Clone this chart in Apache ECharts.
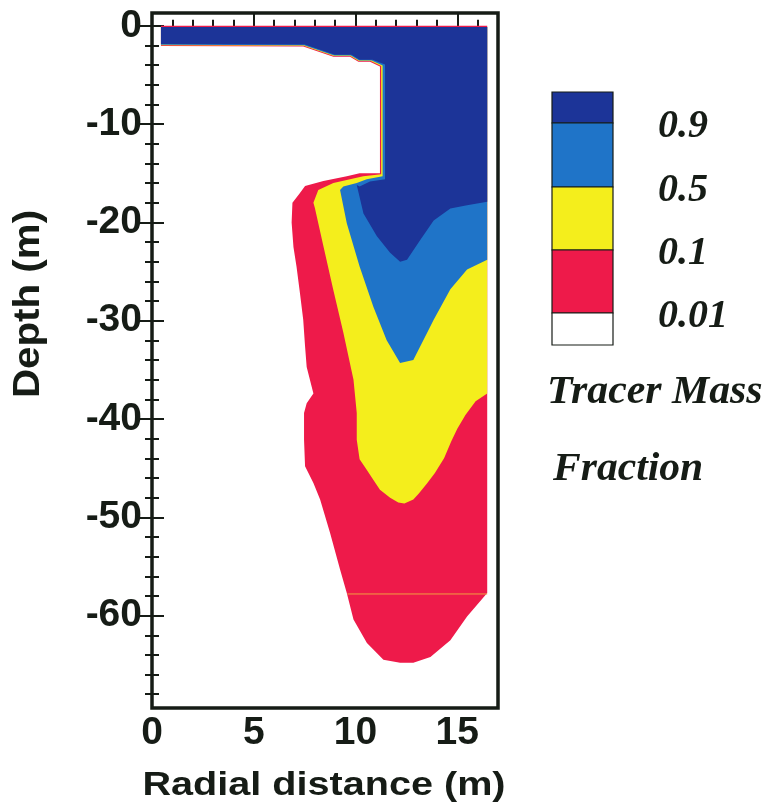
<!DOCTYPE html>
<html>
<head>
<meta charset="utf-8">
<title>Tracer Mass Fraction</title>
<script src="https://cdn.jsdelivr.net/npm/echarts@6/dist/echarts.min.js"></script>
<style>
  html, body { margin: 0; padding: 0; background: #fff; }
  #chart { width: 767px; height: 806px; }
</style>
</head>
<body>
<div id="chart"></div>
<script>
// Axis ticks (radial distance in m, depth in m)
const radialMajor = [0, 5, 10, 15];
const radialMinor = [1, 2, 3, 4, 6, 7, 8, 9, 11, 12, 13, 14, 16];
const depthMajor = [0, -10, -20, -30, -40, -50, -60];
const depthMinor = [-2, -4, -6, -8, -12, -14, -16, -18, -22, -24, -26, -28,
  -32, -34, -36, -38, -42, -44, -46, -48, -52, -54, -56, -58,
  -62, -64, -66, -68];

// Contour levels of the tracer mass fraction
const levelLabels = ['0.9', '0.5', '0.1', '0.01'];

// Region where fraction >= 0.01  [radial distance, depth]
const region001 = [
  [0.44, 0], [16.47, 0], [16.47, -57.7], [15.48, -60.1], [14.66, -62.5],
  [13.68, -64.2], [12.84, -64.8], [12.19, -64.8], [11.37, -64.5], [10.56, -62.8],
  [9.9, -60.4], [9.57, -57.7], [9.24, -55.3], [8.75, -51.6], [8.26, -48.2],
  [7.93, -46.5], [7.52, -44.8], [7.47, -42.1], [7.47, -39.4], [7.6, -38.4],
  [7.93, -37.4], [7.6, -34.7], [7.52, -32.6], [7.43, -29.9], [7.27, -27.2],
  [7.1, -24.5], [6.95, -22.5], [6.86, -20.0], [6.9, -18.0], [7.27, -17.0],
  [7.52, -16.3], [8.42, -15.8], [9.57, -15.3], [10.2, -15.0], [11.2, -15.0],
  [11.2, -4.15], [10.71, -3.65], [10.14, -3.65], [9.73, -3.15], [8.91, -3.15],
  [7.43, -2.1], [0.44, -2.05]
];

// Region where fraction >= 0.1
const region01 = [
  [0.44, -0.12], [16.47, -0.12], [16.47, -37.4], [15.9, -38.2], [15.4, -39.6],
  [15.0, -41.0], [14.7, -42.3], [14.35, -44.0], [13.9, -45.5], [13.5, -46.6],
  [13.1, -47.6], [12.84, -48.2], [12.4, -48.6], [12.1, -48.5], [11.7, -48.0],
  [11.2, -47.2], [10.88, -46.2], [10.5, -45.0], [10.2, -44.1], [10.06, -42.1],
  [10.06, -39.4], [9.9, -36.0], [9.4, -31.2], [8.9, -26.8], [8.42, -22.4],
  [8.0, -18.5], [7.93, -18.0], [8.17, -16.7], [8.91, -16.0], [9.73, -15.6],
  [10.38, -15.3], [11.26, -15.1],
  [11.26, -4.1], [10.75, -3.58], [10.16, -3.58], [9.75, -3.08], [8.93, -3.08],
  [7.45, -2.03], [0.44, -1.98]
];

// Region where fraction >= 0.5
const region05 = [
  [0.44, -0.12], [16.47, -0.12], [16.47, -23.8], [15.48, -24.8], [14.66, -26.8],
  [13.84, -29.9], [13.5, -31.3], [12.84, -34.0], [12.19, -34.3], [11.53, -32.0],
  [10.88, -28.6], [10.2, -24.5], [9.57, -20.1], [9.24, -16.7], [9.4, -16.35],
  [10.06, -16.0], [10.55, -15.6], [11.33, -15.3],
  [11.33, -4.05], [10.79, -3.52], [10.18, -3.52], [9.77, -3.02], [8.95, -3.02],
  [7.47, -1.97], [0.44, -1.93]
];

// Region where fraction >= 0.9
const region09 = [
  [0.44, -0.12], [16.47, -0.12], [16.47, -17.9], [15.48, -18.25], [14.66, -18.6],
  [13.84, -19.8], [13.18, -21.8], [12.53, -23.8], [12.19, -24.0], [11.7, -23.1],
  [11.05, -21.4], [10.39, -19.1], [10.06, -16.2], [10.2, -16.35], [10.71, -15.85],
  [11.45, -15.6],
  [11.45, -3.95], [10.84, -3.45], [10.2, -3.45], [9.8, -2.95], [8.98, -2.95],
  [7.5, -1.9], [0.44, -1.86]
];

// Thin mesh-layer trace across the lower plume
const layerTrace = [[9.6, -57.8], [16.47, -57.8]];

const COLORS = {
  c001: '#ee1a4a',
  c01: '#f4ee1c',
  c05: '#1f74c8',
  c09: '#1c3498',
  ink: '#161c16'
};

function polygonSeries(name, points, fill) {
  return {
    type: 'custom',
    name: name,
    xAxisIndex: 0,
    yAxisIndex: 0,
    data: points,
    silent: true,
    renderItem: function (params, api) {
      if (params.dataIndex !== 0) return null;
      const pts = points.map(function (p) { return api.coord(p); });
      return {
        type: 'polygon',
        shape: { points: pts },
        style: { fill: fill, stroke: null }
      };
    }
  };
}

function xAxisDef(position, ticks, len, labels) {
  return {
    type: 'value', position: position, min: 0, max: 17,
    axisLine: { show: false },
    splitLine: { show: false },
    axisTick: { show: true, inside: true, length: len, customValues: ticks,
      lineStyle: { color: COLORS.ink, width: 2 } },
    axisLabel: labels ? {
      show: true, customValues: ticks, margin: 6,
      fontFamily: '"Liberation Sans", Arial, sans-serif', fontWeight: 'bold',
      fontSize: 39, color: COLORS.ink
    } : { show: false }
  };
}

function yAxisDef(position, ticks, len, labels) {
  return {
    type: 'value', position: position, min: -69.4, max: 1.3,
    axisLine: { show: false },
    splitLine: { show: false },
    axisTick: { show: true, inside: true, length: len, customValues: ticks,
      lineStyle: { color: COLORS.ink, width: 2 } },
    axisLabel: labels ? {
      show: true, customValues: ticks, margin: 10,
      fontFamily: '"Liberation Sans", Arial, sans-serif', fontWeight: 'bold',
      fontSize: 39, color: COLORS.ink
    } : { show: false }
  };
}

// Colour key boxes and labels
const keyLeft = 552, keyWidth = 61;
const keyEdges = [92, 123, 187, 250, 313, 345];
const keyFills = [COLORS.c09, COLORS.c05, COLORS.c01, COLORS.c001, '#ffffff'];
const keyFont = 'italic bold 40px "Liberation Serif", "Times New Roman", serif';
const keyGraphics = [];
for (let i = 0; i < keyFills.length; i++) {
  keyGraphics.push({
    type: 'rect',
    shape: { x: keyLeft, y: keyEdges[i], width: keyWidth, height: keyEdges[i + 1] - keyEdges[i] },
    style: { fill: keyFills[i], stroke: COLORS.ink, lineWidth: 1.2 }
  });
}
levelLabels.forEach(function (txt, i) {
  keyGraphics.push({
    type: 'text', x: 658, y: keyEdges[i + 1] + 4,
    style: { text: txt, font: keyFont, fill: COLORS.ink, align: 'left', verticalAlign: 'middle' }
  });
});
keyGraphics.push({
  type: 'text', x: 547, y: 393, scaleX: 1.045,
  style: { text: 'Tracer Mass', font: keyFont, fill: COLORS.ink, align: 'left', verticalAlign: 'middle' }
});
keyGraphics.push({
  type: 'text', x: 553, y: 470, scaleX: 1.04,
  style: { text: 'Fraction', font: keyFont, fill: COLORS.ink, align: 'left', verticalAlign: 'middle' }
});

// Axis titles
const titleGraphics = [
  {
    type: 'text', x: 324, y: 786, scaleX: 1.2,
    style: { text: 'Radial distance (m)', font: 'bold 33px "Liberation Sans", Arial, sans-serif',
      fill: COLORS.ink, align: 'center', verticalAlign: 'middle' }
  },
  {
    type: 'text', x: 29, y: 304, rotation: Math.PI / 2, scaleX: 1.09,
    style: { text: 'Depth (m)', font: 'bold 37px "Liberation Sans", Arial, sans-serif',
      fill: COLORS.ink, align: 'center', verticalAlign: 'middle' }
  }
];

const chart = echarts.init(document.getElementById('chart'), null, { renderer: 'canvas' });
chart.setOption({
  animation: false,
  backgroundColor: '#ffffff',
  grid: {
    left: 152, right: 269, top: 13, bottom: 98,
    show: true, borderColor: COLORS.ink, borderWidth: 3.5, backgroundColor: 'transparent'
  },
  xAxis: [
    xAxisDef('bottom', radialMajor, 12, true),
    xAxisDef('bottom', radialMinor, 6, false),
    xAxisDef('top', radialMajor, 12, false),
    xAxisDef('top', radialMinor, 6, false)
  ],
  yAxis: [
    yAxisDef('left', depthMajor, 12, true),
    yAxisDef('left', depthMinor, 7, false),
    yAxisDef('right', depthMajor, 12, false),
    yAxisDef('right', depthMinor, 7, false)
  ],
  series: [
    polygonSeries('0.01', region001, COLORS.c001),
    polygonSeries('0.1', region01, COLORS.c01),
    polygonSeries('0.5', region05, COLORS.c05),
    polygonSeries('0.9', region09, COLORS.c09),
    {
      type: 'line', name: 'layer', xAxisIndex: 0, yAxisIndex: 0,
      data: layerTrace, symbol: 'none', silent: true,
      lineStyle: { color: '#f0a040', width: 1 }
    }
  ],
  graphic: keyGraphics.concat(titleGraphics)
});
</script>
</body>
</html>
